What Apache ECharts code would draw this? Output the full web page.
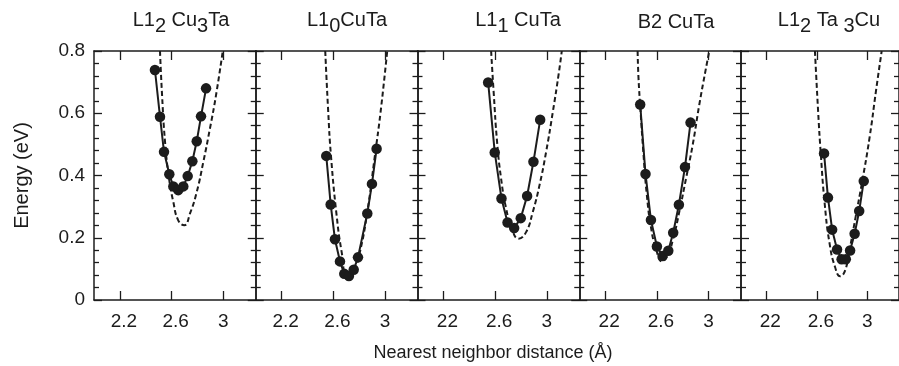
<!DOCTYPE html>
<html>
<head>
<meta charset="utf-8">
<script src="https://cdn.jsdelivr.net/npm/echarts@6/dist/echarts.min.js"></script>
<style>
  html, body { margin: 0; background: #fff; }
  #chart { width: 899px; height: 366px; }
</style>
</head>
<body>
<div id="chart"></div>
<script>
// panel titles (rich text, {s|..} = subscript)
const panelTitles = [
  "L1{s|2} Cu{s|3}Ta",
  "L1{s|0}CuTa",
  "L1{s|1} CuTa",
  "B2 CuTa",
  "L1{s|2} Ta {s|3}Cu",
];

const xTickValues = [2.2, 2.6, 3];
// the original figure prints "22" on the last three panels
const xTickText = [
  ["2.2", "2.6", "3"],
  ["2.2", "2.6", "3"],
  ["22", "2.6", "3"],
  ["22", "2.6", "3"],
  ["22", "2.6", "3"],
];
const yTickValues = [0, 0.2, 0.4, 0.6, 0.8];

// DFT points (solid line + dots) and fitted curve (dashed), distance in Å, energy in eV
const cu3TaX = [2.471, 2.510, 2.541, 2.582, 2.613, 2.651, 2.690, 2.724, 2.760, 2.794, 2.827, 2.866];
const cu3TaE = [0.739, 0.589, 0.476, 0.404, 0.365, 0.353, 0.365, 0.398, 0.446, 0.510, 0.590, 0.680];
const cu3TaFitX = [2.510, 2.526, 2.549, 2.580, 2.613, 2.651, 2.698, 2.742, 2.794, 2.845, 2.896, 2.943, 2.995];
const cu3TaFitE = [0.800, 0.658, 0.508, 0.390, 0.315, 0.256, 0.240, 0.278, 0.347, 0.444, 0.551, 0.658, 0.800];

const l10X = [2.545, 2.579, 2.612, 2.651, 2.684, 2.720, 2.757, 2.790, 2.862, 2.898, 2.934];
const l10E = [0.463, 0.307, 0.195, 0.124, 0.084, 0.077, 0.097, 0.137, 0.278, 0.373, 0.486];
const l10FitX = [2.537, 2.560, 2.581, 2.625, 2.664, 2.707, 2.760, 2.805, 2.862, 2.921, 2.965, 3.016];
const l10FitE = [0.800, 0.605, 0.465, 0.272, 0.154, 0.071, 0.095, 0.154, 0.283, 0.465, 0.605, 0.800];

const l11X = [2.546, 2.597, 2.649, 2.696, 2.747, 2.798, 2.847, 2.896, 2.948];
const l11E = [0.699, 0.474, 0.326, 0.249, 0.231, 0.263, 0.334, 0.444, 0.579];
const l11FitX = [2.569, 2.590, 2.615, 2.646, 2.685, 2.729, 2.781, 2.839, 2.891, 2.943, 2.994, 3.046, 3.090, 3.115];
const l11FitE = [0.800, 0.658, 0.508, 0.390, 0.294, 0.229, 0.197, 0.218, 0.283, 0.369, 0.476, 0.605, 0.723, 0.800];

const b2X = [2.471, 2.512, 2.554, 2.600, 2.644, 2.688, 2.726, 2.770, 2.817, 2.860];
const b2E = [0.628, 0.405, 0.257, 0.172, 0.141, 0.158, 0.216, 0.306, 0.427, 0.570];
const b2FitX = [2.451, 2.458, 2.474, 2.495, 2.520, 2.554, 2.593, 2.639, 2.682, 2.726, 2.773, 2.825, 2.876, 2.927, 2.974, 3.005];
const b2FitE = [0.800, 0.712, 0.605, 0.476, 0.347, 0.234, 0.165, 0.124, 0.143, 0.197, 0.283, 0.390, 0.497, 0.626, 0.733, 0.800];

const ta3CuX = [2.657, 2.688, 2.721, 2.760, 2.796, 2.829, 2.863, 2.899, 2.935, 2.971];
const ta3CuE = [0.471, 0.329, 0.226, 0.162, 0.131, 0.131, 0.159, 0.213, 0.286, 0.382];
const ta3CuFitX = [2.585, 2.611, 2.631, 2.662, 2.701, 2.744, 2.785, 2.824, 2.863, 2.907, 2.958, 3.018, 3.069, 3.113];
const ta3CuFitE = [0.800, 0.600, 0.471, 0.310, 0.181, 0.106, 0.076, 0.095, 0.170, 0.267, 0.379, 0.524, 0.675, 0.800];

const panels = [
  [cu3TaX, cu3TaE, cu3TaFitX, cu3TaFitE],
  [l10X, l10E, l10FitX, l10FitE],
  [l11X, l11E, l11FitX, l11FitE],
  [b2X, b2E, b2FitX, b2FitE],
  [ta3CuX, ta3CuE, ta3CuFitX, ta3CuFitE],
];

const FONT = "'Liberation Sans', Arial, Helvetica, sans-serif";
const INK = "#1c1c1c";
const PANEL_LEFT = 94;
const PANEL_W = 161.75;
const PANEL_TOP = 51;
const PANEL_H = 249;
const titleCenters = [176, 342, 513, 671, 824];

function zip(xs, ys) {
  return xs.map((x, i) => [x, ys[i]]);
}

const axisLine = { show: true, onZero: false, lineStyle: { color: INK, width: 1.5 } };
const tickLine = { color: INK, width: 1.3 };

const grids = [], xAxes = [], yAxes = [], series = [], titles = [];

panels.forEach((p, i) => {
  grids.push({ left: PANEL_LEFT + i * PANEL_W, top: PANEL_TOP, width: PANEL_W, height: PANEL_H, show: false });

  const labels = xTickText[i];
  const xBase = {
    type: "value", gridIndex: i, min: 2.0, max: 3.25,
    axisLine: axisLine,
    splitLine: { show: false },
  };
  xAxes.push(Object.assign({}, xBase, {
    position: "bottom",
    axisTick: { show: true, inside: true, length: 9, customValues: xTickValues, lineStyle: tickLine },
    axisLabel: {
      customValues: xTickValues, margin: 12, color: INK, fontFamily: FONT, fontSize: 19,
      formatter: (v) => {
        const k = xTickValues.indexOf(Math.round(v * 10) / 10);
        const s = labels[k];
        return s === "3" ? s : "{p|" + s + "}";
      },
      rich: { p: { padding: [0, 0, 0, 8], fontSize: 19, fontFamily: FONT, color: INK } },
    },
  }));
  xAxes.push(Object.assign({}, xBase, {
    position: "top",
    axisTick: { show: true, inside: true, length: 9, customValues: xTickValues, lineStyle: tickLine },
    axisLabel: { show: false },
  }));

  const yBase = {
    type: "value", gridIndex: i, min: 0, max: 0.8, interval: 0.2,
    axisLine: axisLine,
    axisTick: { show: true, inside: true, length: 8, lineStyle: tickLine },
    minorTick: { show: true, splitNumber: 5, length: 5, lineStyle: tickLine },
    splitLine: { show: false },
  };
  yAxes.push(Object.assign({}, yBase, {
    position: "left",
    axisLabel: {
      show: i === 0, margin: 9, color: INK, fontFamily: FONT, fontSize: 19,
      formatter: (v) => (v === 0 ? "0" : v.toFixed(1)),
    },
    name: i === 0 ? "Energy (eV)" : "",
    nameLocation: "middle",
    nameGap: 62,
    nameTextStyle: { color: INK, fontFamily: FONT, fontSize: 20 },
  }));
  yAxes.push(Object.assign({}, yBase, { position: "right", axisLabel: { show: false } }));

  const [x, e, fx, fe] = p;
  series.push({
    type: "line", xAxisIndex: 2 * i, yAxisIndex: 2 * i,
    data: zip(fx, fe), smooth: 0.5, symbol: "none",
    lineStyle: { color: INK, width: 2, type: [5, 3] }, z: 2, silent: true,
  });
  series.push({
    type: "line", xAxisIndex: 2 * i, yAxisIndex: 2 * i,
    data: zip(x, e), symbol: "circle", symbolSize: 10.5, showAllSymbol: true,
    lineStyle: { color: INK, width: 2 }, itemStyle: { color: INK }, z: 3, silent: true,
  });

  const hasSub = panelTitles[i].indexOf("{s|") >= 0;
  titles.push({
    text: panelTitles[i], left: titleCenters[i], top: hasSub ? 5 : 7, textAlign: "center",
    textStyle: {
      color: INK, fontFamily: FONT, fontSize: 20, fontWeight: "normal", lineHeight: 20,
      rich: { s: { color: INK, fontFamily: FONT, fontSize: 20, lineHeight: 20, padding: [12, 0, 0, 0] } },
    },
  });
});

titles.push({
  text: "Nearest neighbor distance (Å)", left: 488, top: 338, textAlign: "center",
  textStyle: { color: INK, fontFamily: FONT, fontSize: 18, fontWeight: "normal", lineHeight: 20 },
});

const chart = echarts.init(document.getElementById("chart"), null, { renderer: "canvas" });
chart.setOption({
  animation: false,
  backgroundColor: "#fff",
  title: titles,
  grid: grids,
  xAxis: xAxes,
  yAxis: yAxes,
  series: series,
});
</script>
</body>
</html>
